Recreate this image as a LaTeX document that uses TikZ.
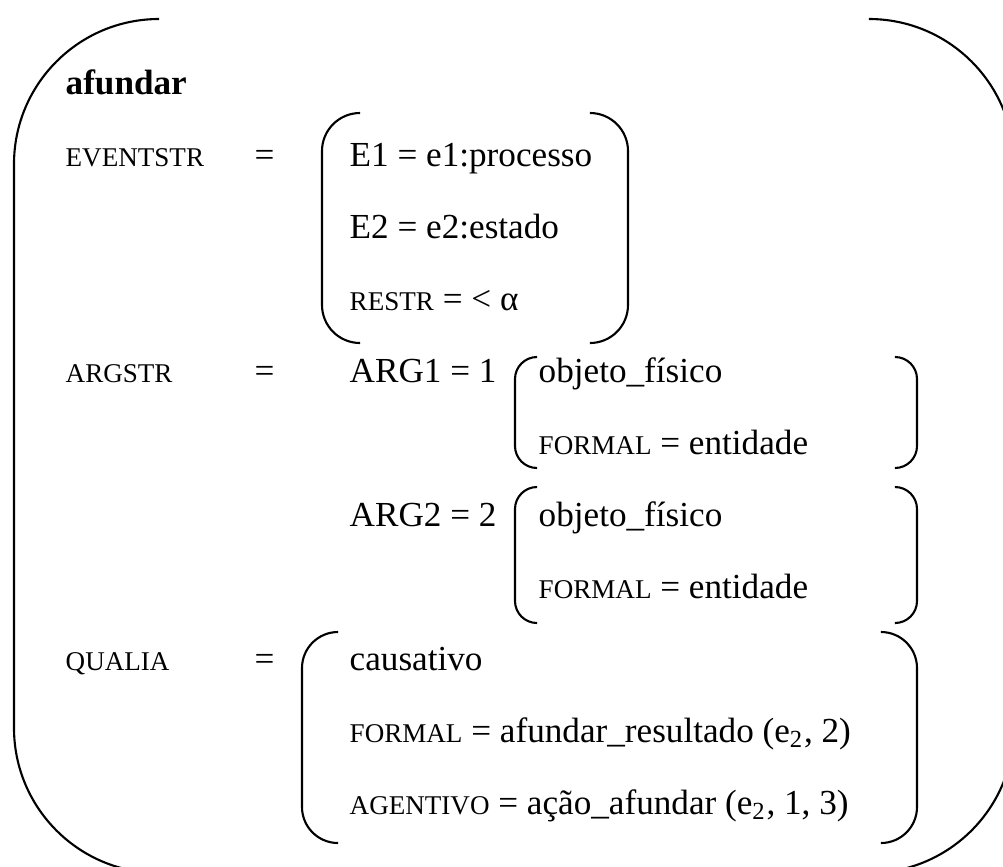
\documentclass[tikz,border=0pt]{standalone}
\usepackage{fontspec}
\setmainfont{Liberation Serif}
\newcommand{\smc}[1]{{\fontsize{7.7}{9}\selectfont #1}}

\begin{document}
\begin{tikzpicture}[x=0.01cm, y=-0.01cm, font=\fontsize{10}{12}\selectfont,
    txt/.style={anchor=base west, inner sep=0pt},
    brk/.style={line width=0.6pt, rounded corners=#1}, brk/.default=0.38cm]
    \useasboundingbox (0,0) rectangle (1003,866);
    \clip (0,0) rectangle (1003,866);
    % outer brackets
    \draw[brk=1.45cm] (159,19) -- (14,19) -- (14,873) -- (159,873);
    \draw[brk=1.45cm] (869,19) -- (1014,19) -- (1014,873) -- (869,873);
    \node[txt] (head) at (65,94) {\bfseries afundar};
    % eventstr
    \node[txt] (evstr) at (65,166) {\smc{EVENTSTR}};
    \node[txt] (eqev) at (254,166) {=};
    \draw[brk] (360,113) -- (322,113) -- (322,343) -- (360,343);
    \draw[brk] (590,113) -- (628,113) -- (628,343) -- (590,343);
    \node[txt] (evA) at (349,166) {E1 = e1:processo};
    \node[txt] (evB) at (349,238) {E2 = e2:estado};
    \node[txt] (evC) at (349,310) {\smc{RESTR} = < α};
    % argstr
    \node[txt] (argstr) at (65,382) {\smc{ARGSTR}};
    \node[txt] (eqarg) at (254,382) {=};
    \node[txt] (argA) at (349,382) {ARG1 = 1};
    \draw[brk=0.22cm] (537,357) -- (515,357) -- (515,468) -- (537,468);
    \draw[brk=0.22cm] (895,357) -- (917,357) -- (917,468) -- (895,468);
    \node[txt] (argAa) at (538,382) {objeto\_físico};
    \node[txt] (argAb) at (538,454) {\smc{FORMAL} = entidade};
    \node[txt] (argB) at (349,526) {ARG2 = 2};
    \draw[brk=0.22cm] (537,487) -- (515,487) -- (515,623) -- (537,623);
    \draw[brk=0.22cm] (895,487) -- (917,487) -- (917,623) -- (895,623);
    \node[txt] (argBa) at (538,526) {objeto\_físico};
    \node[txt] (argBb) at (538,598) {\smc{FORMAL} = entidade};
    % qualia
    \node[txt] (qualia) at (65,670) {\smc{QUALIA}};
    \node[txt] (eqqua) at (254,670) {=};
    \draw[brk=0.36cm] (338,632) -- (302,632) -- (302,843) -- (338,843);
    \draw[brk=0.36cm] (881,632) -- (917,632) -- (917,843) -- (881,843);
    \node[txt] (quaA) at (349,670) {causativo};
    \node[txt] (quaB) at (349,742) {\smc{FORMAL} = afundar\_resultado (e\textsubscript{2}, 2)};
    \node[txt] (quaC) at (349,814) {\smc{AGENTIVO} = ação\_afundar (e\textsubscript{2}, 1, 3)};
\end{tikzpicture}
\end{document}
